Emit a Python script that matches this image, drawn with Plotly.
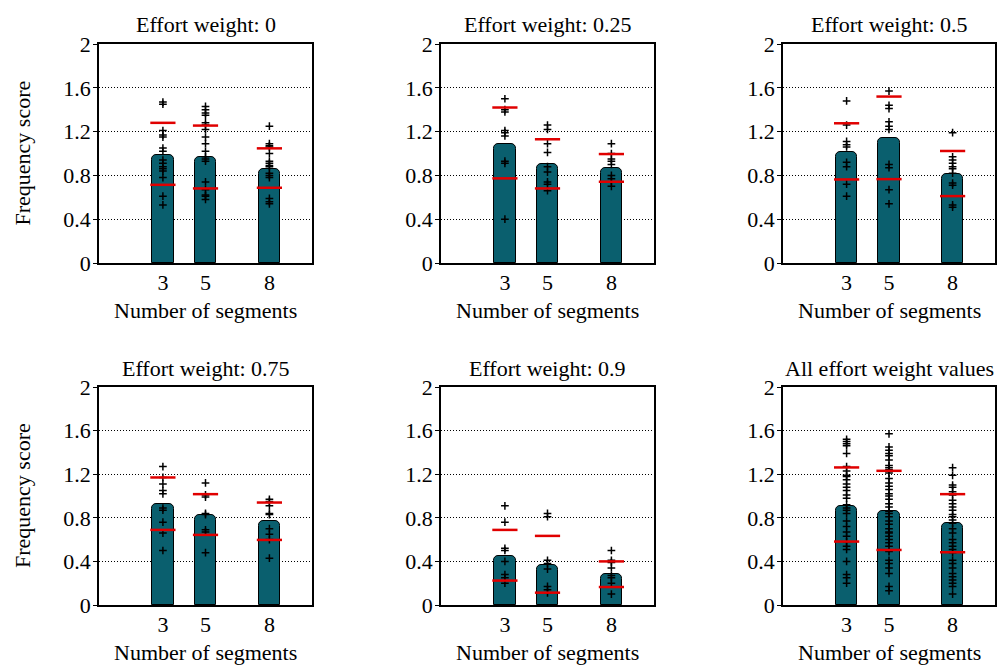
import plotly.graph_objects as go

# ---------------- data ----------------
categories = [3, 5, 8]
category_labels = ["3", "5", "8"]
y_tick_values = [0, 0.4, 0.8, 1.2, 1.6, 2]
y_tick_labels = ["0", "0.4", "0.8", "1.2", "1.6", "2"]

panel_titles = [
    "Effort weight: 0",
    "Effort weight: 0.25",
    "Effort weight: 0.5",
    "Effort weight: 0.75",
    "Effort weight: 0.9",
    "All effort weight values",
]

# bar heights (mean frequency score) per panel, for 3, 5, 8 segments
means_w0 = [0.99, 0.97, 0.86]
means_w025 = [1.09, 0.90, 0.87]
means_w05 = [1.01, 1.14, 0.81]
means_w075 = [0.93, 0.83, 0.77]
means_w09 = [0.45, 0.37, 0.28]
means_all = [0.91, 0.86, 0.75]

# red markers: upper and lower (mean +/- sd)
upper_w0 = [1.28, 1.255, 1.047]
lower_w0 = [0.714, 0.681, 0.687]
upper_w025 = [1.42, 1.13, 0.995]
lower_w025 = [0.773, 0.681, 0.742]
upper_w05 = [1.276, 1.52, 1.023]
lower_w05 = [0.763, 0.766, 0.611]
upper_w075 = [1.17, 1.017, 0.94]
lower_w075 = [0.689, 0.643, 0.597]
upper_w09 = [0.689, 0.634, 0.40]
lower_w09 = [0.224, 0.113, 0.165]
upper_all = [1.262, 1.231, 1.017]
lower_all = [0.582, 0.505, 0.484]

# individual scores (black crosses) per panel: [3 segments, 5 segments, 8 segments]
points_w0 = [
    [1.47, 1.45, 1.21, 1.17, 1.15, 1.05, 1.02, 0.94, 0.91, 0.88, 0.86, 0.84, 0.78, 0.61, 0.53],
    [1.43, 1.40, 1.37, 1.35, 1.28, 1.26, 1.22, 1.15, 1.09, 1.02, 0.97, 0.95, 0.93, 0.74, 0.67, 0.62, 0.61, 0.58],
    [1.25, 1.09, 1.07, 1.06, 1.00, 0.93, 0.91, 0.89, 0.88, 0.82, 0.80, 0.78, 0.59, 0.56, 0.54],
]
points_w025 = [
    [1.50, 1.40, 1.38, 1.21, 1.19, 1.16, 0.93, 0.91, 0.40],
    [1.26, 1.22, 1.09, 1.01, 0.88, 0.83, 0.74, 0.72, 0.66],
    [1.09, 1.00, 0.95, 0.93, 0.90, 0.80, 0.77, 0.74, 0.70],
]
points_w05 = [
    [1.48, 1.26, 1.11, 1.08, 1.06, 0.92, 0.88, 0.72, 0.61],
    [1.57, 1.44, 1.41, 1.29, 1.25, 1.22, 0.90, 0.87, 0.67, 0.54],
    [1.19, 0.97, 0.94, 0.91, 0.88, 0.86, 0.82, 0.73, 0.71, 0.53, 0.51],
]
points_w075 = [
    [1.27, 1.17, 1.11, 1.05, 1.02, 0.89, 0.87, 0.76, 0.66, 0.50],
    [1.12, 1.01, 0.99, 0.84, 0.83, 0.69, 0.67, 0.48],
    [0.97, 0.95, 0.91, 0.84, 0.83, 0.70, 0.65, 0.60, 0.43],
]
points_w09 = [
    [0.91, 0.76, 0.52, 0.50, 0.40, 0.28, 0.25, 0.20],
    [0.84, 0.81, 0.41, 0.38, 0.33, 0.17, 0.14, 0.11],
    [0.50, 0.41, 0.39, 0.34, 0.27, 0.25, 0.20, 0.10],
]
points_all = [
    [1.52, 1.50, 1.48, 1.46, 1.39, 1.27, 1.23, 1.19, 1.18, 1.15, 1.11, 1.08, 1.05, 1.01,
     0.98, 0.92, 0.89, 0.87, 0.84, 0.77, 0.72, 0.67, 0.63, 0.58, 0.54, 0.51, 0.40, 0.28,
     0.25, 0.20],
    [1.57, 1.45, 1.42, 1.39, 1.37, 1.33, 1.28, 1.26, 1.24, 1.21, 1.16, 1.12, 1.09, 1.06,
     1.02, 1.00, 0.97, 0.93, 0.90, 0.86, 0.84, 0.81, 0.77, 0.74, 0.70, 0.67, 0.66, 0.63,
     0.60, 0.57, 0.54, 0.49, 0.41, 0.38, 0.34, 0.29, 0.17, 0.13],
    [1.26, 1.19, 1.10, 1.08, 1.04, 1.01, 0.96, 0.93, 0.90, 0.87, 0.83, 0.81, 0.78, 0.75,
     0.70, 0.66, 0.60, 0.57, 0.54, 0.51, 0.48, 0.41, 0.38, 0.34, 0.29, 0.26, 0.23, 0.20,
     0.17, 0.10],
]

panel_means = [means_w0, means_w025, means_w05, means_w075, means_w09, means_all]
panel_upper = [upper_w0, upper_w025, upper_w05, upper_w075, upper_w09, upper_all]
panel_lower = [lower_w0, lower_w025, lower_w05, lower_w075, lower_w09, lower_all]
panel_points = [points_w0, points_w025, points_w05, points_w075, points_w09, points_all]

# ---------------- style / layout ----------------
W, H = 998, 666
FONT = "Liberation Serif"
FS = 22
BAR_COLOR = "#0a5f6e"
RED = "#e00000"

col_px = [(99, 312), (441, 654), (783, 995)]
row_px = [(44, 263), (387, 605)]

fig = go.Figure()

for i in range(6):
    r, c = divmod(i, 3)
    ax = "" if i == 0 else str(i + 1)
    xref, yref = "x" + ax, "y" + ax

    fig.add_trace(go.Bar(
        x=categories, y=panel_means[i], width=1.0,
        marker=dict(color=BAR_COLOR, line=dict(color="black", width=1), cornerradius=5),
        xaxis=xref, yaxis=yref, showlegend=False, hoverinfo="skip",
    ))

    px_, py_ = [], []
    for k, cat in enumerate(categories):
        for v in panel_points[i][k]:
            px_.append(cat)
            py_.append(v)
    fig.add_trace(go.Scatter(
        x=px_, y=py_, mode="markers",
        marker=dict(symbol="cross-thin", size=5.5, line=dict(color="black", width=1.5)),
        xaxis=xref, yaxis=yref, showlegend=False, hoverinfo="skip",
    ))

    fig.add_trace(go.Scatter(
        x=categories + categories, y=panel_upper[i] + panel_lower[i], mode="markers",
        marker=dict(symbol="line-ew", size=18, line=dict(color=RED, width=2.5)),
        xaxis=xref, yaxis=yref, showlegend=False, hoverinfo="skip",
    ))

    x0, x1 = col_px[c]
    y0, y1 = row_px[r]
    fig.layout["xaxis" + ax] = dict(
        domain=[x0 / W, x1 / W], anchor=yref, range=[0, 10],
        tickmode="array", tickvals=categories, ticktext=category_labels,
        showgrid=False, zeroline=False, ticks="", showline=True, mirror=True,
        linecolor="black", linewidth=1.5, ticklabelstandoff=-1, automargin=False,
        tickfont=dict(family=FONT, size=FS, color="black"), fixedrange=True,
    )
    fig.layout["yaxis" + ax] = dict(
        domain=[1 - y1 / H, 1 - y0 / H], anchor=xref, range=[0, 2],
        tickmode="array", tickvals=y_tick_values, ticktext=y_tick_labels,
        showgrid=True, gridcolor="black", griddash="1px,2px", gridwidth=1,
        zeroline=False, ticks="outside", ticklen=4, tickcolor="black", tickwidth=1,
        showline=True, mirror=True, linecolor="black", linewidth=1.5,
        ticklabelstandoff=-2, automargin=False,
        tickfont=dict(family=FONT, size=FS, color="black"), fixedrange=True,
    )

    cx = (x0 + x1) / 2 / W
    fig.add_annotation(text=panel_titles[i], x=cx, y=1 - (y0 - 19) / H,
                       xref="paper", yref="paper", showarrow=False,
                       xanchor="center", yanchor="middle",
                       font=dict(family=FONT, size=FS, color="black"))
    fig.add_annotation(text="Number of segments", x=cx, y=1 - (y1 + 47) / H,
                       xref="paper", yref="paper", showarrow=False,
                       xanchor="center", yanchor="middle",
                       font=dict(family=FONT, size=FS, color="black"))
    if c == 0:
        fig.add_annotation(text="Frequency score", x=22 / W, y=1 - (y0 + y1) / 2 / H,
                           xref="paper", yref="paper", showarrow=False, textangle=-90,
                           xanchor="center", yanchor="middle",
                           font=dict(family=FONT, size=FS, color="black"))

fig.update_layout(
    width=W, height=H, margin=dict(l=0, r=0, t=0, b=0, pad=0, autoexpand=False),
    paper_bgcolor="white", plot_bgcolor="white", bargap=0,
    font=dict(family=FONT, size=FS, color="black"),
)

fig.write_html("out.html", config={"displayModeBar": False})
